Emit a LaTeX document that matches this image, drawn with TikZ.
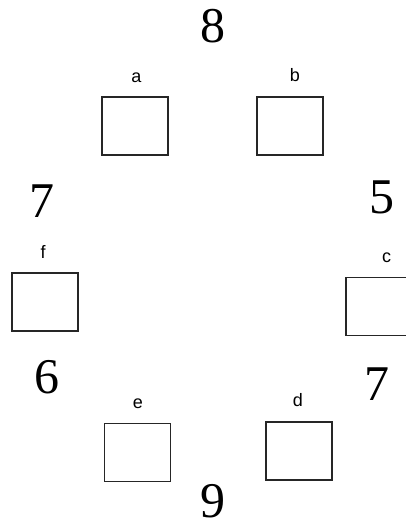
\documentclass[tikz,border=0pt]{standalone}
\usepackage{fontspec}
\setmainfont{Liberation Serif}
\newfontfamily\labfont{Liberation Sans}
\begin{document}
\begin{tikzpicture}[x=1pt,y=-1pt,
  slot/.style={draw=black!85, line width=1.4pt, minimum width=66pt, minimum height=58pt, inner sep=0pt},
  lab/.style={font=\labfont\fontsize{18}{18}\selectfont, anchor=base, inner sep=0pt},
  num/.style={font=\fontsize{50}{50}\selectfont, anchor=base, inner sep=0pt}]
\useasboundingbox (0,0) rectangle (406,524);
\clip (0,0) rectangle (406,524);
% boxes
\node[slot] (a) at (135,126) {};
\node[slot] (b) at (290,126) {};
\node[slot] (f) at (45,302) {};
\node[slot] (c) at (379,306.5) {};
\node[slot] (e) at (137.5,452.5) {};
\node[slot] (d) at (299,451) {};
% letter labels
\node[lab] (la) at (136.5,83) {a};
\node[lab] (lb) at (295,82) {b};
\node[lab] (lf) at (43,258) {f};
\node[lab] (lc) at (386.5,262) {c};
\node[lab] (le) at (138,408) {e};
\node[lab] (ld) at (298,406) {d};
% numbers
\node[num] (n8) at (213,43) {8};
\node[num] (n7l) at (42,217) {7};
\node[num] (n5) at (381.5,213) {5};
\node[num] (n6) at (47,393) {6};
\node[num] (n7r) at (376.5,400) {7};
\node[num] (n9) at (213,517) {9};
\end{tikzpicture}
\end{document}
